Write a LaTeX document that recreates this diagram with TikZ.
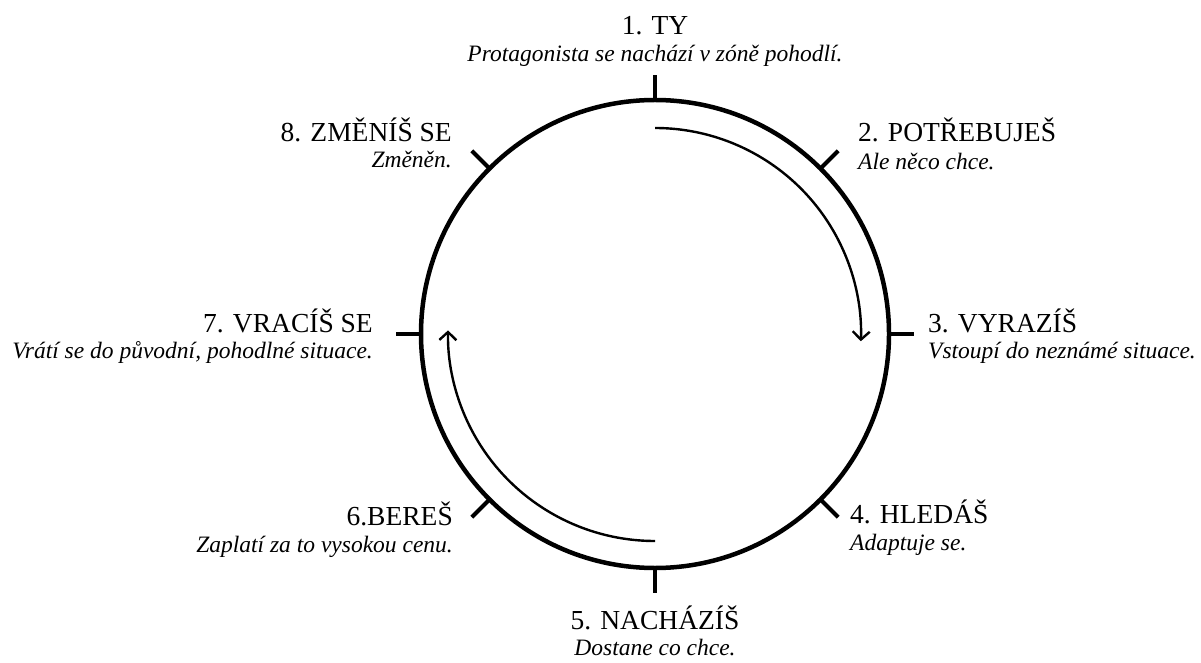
\documentclass[tikz,border=0pt]{standalone}
\usepackage{fontspec}
\setmainfont{Liberation Serif}
\usetikzlibrary{arrows.meta,calc}
\tikzset{
  ring/.style={draw=black, line width=4.5pt, circle, minimum size=468pt, inner sep=0pt, outer sep=0pt},
  tick/.style={draw=black, line width=4.2pt},
  flow/.style={draw=black, line width=2.4pt, -{Straight Barb[length=8pt,width=17pt,line width=2.4pt]}},
  ttl/.style={inner sep=0pt, font=\fontsize{27.5}{30}\selectfont},
  sub/.style={inner sep=0pt, font=\fontsize{23.5}{26}\selectfont\itshape}
}
\begin{document}
\begin{tikzpicture}[x=1pt,y=1pt]
\useasboundingbox (0,0) rectangle (1201,662);
\coordinate (c) at (655,328);
\node[ring] (r) at (c) {};
\foreach \a in {0,45,...,315}{
  \coordinate (t\a) at ($(c)+(\a:259)$);
}
\foreach \a in {0,45,...,315}{
  \draw[tick] (r.\a) -- (t\a);
}
% inner arrows
\coordinate (a1s) at ($(c)+(90:206)$);
\coordinate (a2s) at ($(c)+(-90:207)$);
\draw[flow] (a1s) arc[start angle=90, end angle=-2, radius=206];
\draw[flow] (a2s) arc[start angle=-90, end angle=-181, radius=207];
% labels
\node[ttl, anchor=base] (l1) at (655,627) {1. TY};
\node[sub, anchor=base] (s1) at (655,600) {Protagonista se nachází v zóně pohodlí.};
\node[ttl, anchor=base west] (l2) at (858,520) {2. POTŘEBUJEŠ};
\node[sub, anchor=base west] (s2) at (858,492) {Ale něco chce.};
\node[ttl, anchor=base west] (l3) at (928,330) {3. VYRAZÍŠ};
\node[sub, anchor=base west] (s3) at (928,304) {Vstoupí do neznámé situace.};
\node[ttl, anchor=base west] (l4) at (850,139) {4. HLEDÁŠ};
\node[sub, anchor=base west] (s4) at (850,112) {Adaptuje se.};
\node[ttl, anchor=base] (l5) at (655,33) {5. NACHÁZÍŠ};
\node[sub, anchor=base] (s5) at (655,7) {Dostane co chce.};
\node[ttl, anchor=base east] (l6) at (453,137) {6.BEREŠ};
\node[sub, anchor=base east] (s6) at (453,110) {Zaplatí za to vysokou cenu.};
\node[ttl, anchor=base east] (l7) at (373,330) {7. VRACÍŠ SE};
\node[sub, anchor=base east] (s7) at (373,304) {Vrátí se do původní, pohodlné situace.};
\node[ttl, anchor=base east] (l8) at (452,520) {8. ZMĚNÍŠ SE};
\node[sub, anchor=base east] (s8) at (452,494) {Změněn.};
\end{tikzpicture}
\end{document}
